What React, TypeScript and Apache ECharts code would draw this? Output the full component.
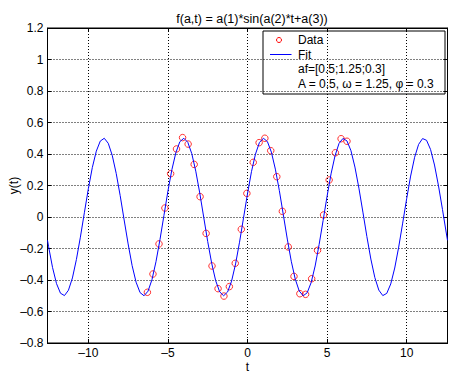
import React, { useEffect, useRef } from "react";
import * as echarts from "echarts";

const titleText = "f(a,t) = a(1)*sin(a(2)*t+a(3))";
const xName = "t";
const yName = "y(t)";
const legendLabels = ["Data", "Fit", "af=[0.5;1.25;0.3]", "A = 0.5, \u03c9 = 1.25, \u03c6 = 0.3"];

const xMin = -12.566;
const xMax = 12.566;
const yMin = -0.8;
const yMax = 1.2;
const yStep = 0.2;

// measured data points (red circles)
const dataT = [-6.29, -5.94, -5.56, -5.19, -4.83, -4.46, -4.08, -3.73, -3.35, -2.98, -2.6, -2.23, -1.85, -1.48, -1.14, -0.77, -0.39, -0.04, 0.36, 0.73, 1.09, 1.46, 1.84, 2.19, 2.56, 2.92, 3.29, 3.65, 4.03, 4.4, 4.78, 5.13, 5.52, 5.88, 6.25];
const dataY = [-0.478, -0.362, -0.171, 0.057, 0.275, 0.432, 0.504, 0.463, 0.334, 0.129, -0.104, -0.311, -0.455, -0.502, -0.442, -0.294, -0.078, 0.15, 0.347, 0.472, 0.5, 0.421, 0.256, 0.036, -0.19, -0.377, -0.487, -0.491, -0.392, -0.212, 0.013, 0.235, 0.408, 0.497, 0.481];

// fit curve samples
const fitT = [-12.566, -12.5, -12.25, -12, -11.75, -11.5, -11.25, -11, -10.75, -10.5, -10.25, -10, -9.75, -9.5, -9.25, -9, -8.75, -8.5, -8.25, -8, -7.75, -7.5, -7.25, -7, -6.75, -6.5, -6.25, -6, -5.75, -5.5, -5.25, -5, -4.75, -4.5, -4.25, -4, -3.75, -3.5, -3.25, -3, -2.75, -2.5, -2.25, -2, -1.75, -1.5, -1.25, -1, -0.75, -0.5, -0.25, 0, 0.25, 0.5, 0.75, 1, 1.25, 1.5, 1.75, 2, 2.25, 2.5, 2.75, 3, 3.25, 3.5, 3.75, 4, 4.25, 4.5, 4.75, 5, 5.25, 5.5, 5.75, 6, 6.25, 6.5, 6.75, 7, 7.25, 7.5, 7.75, 8, 8.25, 8.5, 8.75, 9, 9.25, 9.5, 9.75, 10, 10.25, 10.5, 10.75, 11, 11.25, 11.5, 11.75, 12, 12.25, 12.5, 12.566];
const fitY = [-0.148, -0.187, -0.32, -0.423, -0.484, -0.499, -0.465, -0.387, -0.27, -0.128, 0.027, 0.179, 0.314, 0.418, 0.482, 0.5, 0.468, 0.392, 0.277, 0.136, -0.019, -0.171, -0.308, -0.414, -0.48, -0.5, -0.471, -0.397, -0.284, -0.144, 0.01, 0.164, 0.301, 0.409, 0.478, 0.5, 0.474, 0.402, 0.291, 0.152, -0.002, -0.156, -0.294, -0.404, -0.475, -0.5, -0.476, -0.407, -0.298, -0.16, -0.006, 0.148, 0.288, 0.399, 0.473, 0.5, 0.479, 0.412, 0.304, 0.168, 0.015, -0.14, -0.281, -0.394, -0.47, -0.5, -0.481, -0.416, -0.311, -0.175, -0.023, 0.132, 0.274, 0.389, 0.467, 0.499, 0.483, 0.421, 0.317, 0.183, 0.031, -0.124, -0.267, -0.384, -0.464, -0.499, -0.485, -0.425, -0.324, -0.191, -0.039, 0.116, 0.26, 0.379, 0.461, 0.498, 0.487, 0.429, 0.33, 0.198, 0.048, -0.108, -0.148];

export default function App() {
  const ref = useRef<HTMLDivElement>(null);
  useEffect(() => {
    const chart = echarts.init(ref.current as HTMLDivElement, null, { renderer: "svg" });
    const font = "'Liberation Sans', Arial, Helvetica, sans-serif";
    const fs = 12;
    const fmt = (v: number) => String(v).replace("-", "\u2013");
    const dotted = { color: "#000", width: 1, type: [1, 2] as number[] };
    const lx = 263, ly = 31, lw = 182, lh = 63;
    const axisLine = { show: true, onZero: false, lineStyle: { color: "#000", width: 1 } };
    const axisTick = { show: true, inside: true, length: 4, lineStyle: { color: "#000" } };
    chart.setOption({
      animation: false,
      backgroundColor: "#fff",
      textStyle: { fontFamily: font },
      title: {
        text: titleText,
        left: 247,
        textAlign: "center",
        top: 7.5,
        textStyle: { fontSize: 12.5, fontWeight: "normal", color: "#000", fontFamily: font },
      },
      grid: { left: 47.5, right: 5.5, top: 28, bottom: 33, containLabel: false, outerBoundsMode: "none", show: true, borderColor: "#000", borderWidth: 1, backgroundColor: "transparent" },
      xAxis: [
        {
          type: "value",
          min: xMin,
          max: xMax,
          splitNumber: 5,
          position: "bottom",
          name: xName,
          nameLocation: "middle",
          nameGap: 18,
          nameMoveOverlap: false,
          nameTextStyle: { fontSize: fs, color: "#000", fontFamily: font },
          axisLine,
          axisTick,
          axisLabel: { fontSize: fs, color: "#000", margin: 4, showMinLabel: false, showMaxLabel: false, formatter: fmt, fontFamily: font },
          splitLine: { show: true, lineStyle: dotted },
        },
        {
          type: "value",
          min: xMin,
          max: xMax,
          splitNumber: 5,
          position: "top",
          axisLine,
          axisTick,
          axisLabel: { show: false },
          splitLine: { show: false },
        },
      ],
      yAxis: [
        {
          type: "value",
          min: yMin,
          max: yMax,
          interval: yStep,
          position: "left",
          axisLine,
          axisTick,
          axisLabel: { fontSize: fs, color: "#000", margin: 4, formatter: fmt, fontFamily: font },
          splitLine: { show: true, lineStyle: dotted },
        },
        {
          type: "value",
          min: yMin,
          max: yMax,
          interval: yStep,
          position: "right",
          axisLine,
          axisTick,
          axisLabel: { show: false },
          splitLine: { show: false },
        },
      ],
      series: [
        {
          name: legendLabels[0],
          type: "scatter",
          xAxisIndex: 0,
          yAxisIndex: 0,
          symbol: "circle",
          symbolSize: 6.5,
          itemStyle: { color: "rgba(0,0,0,0)", borderColor: "#ff0000", borderWidth: 1 },
          data: dataT.map((t, i) => [t, dataY[i]]),
          z: 2,
        },
        {
          name: legendLabels[1],
          type: "line",
          xAxisIndex: 0,
          yAxisIndex: 0,
          showSymbol: false,
          symbol: "none",
          lineStyle: { color: "#0000ff", width: 1 },
          data: fitT.map((t, i) => [t, fitY[i]]),
          z: 3,
        },
      ],
      graphic: [
        {
          type: "text",
          x: 13.5,
          y: 185.5,
          rotation: Math.PI / 2,
          style: { text: yName, fontSize: fs, fill: "#000", fontFamily: font, align: "center", verticalAlign: "middle" },
        },
        {
          type: "group",
          z: 100,
          children: [
            { type: "rect", shape: { x: lx, y: ly, width: lw, height: lh }, style: { fill: "#fff", stroke: "#000", lineWidth: 1 } },
            { type: "circle", shape: { cx: 279, cy: 40, r: 2.5 }, style: { fill: "none", stroke: "#ff0000", lineWidth: 1 } },
            { type: "line", shape: { x1: 270, y1: 54.5, x2: 291.5, y2: 54.5 }, style: { stroke: "#0000ff", lineWidth: 1 } },
            ...legendLabels.map((s, i) => ({
              type: "text",
              x: 298,
              y: 40 + i * 14.6,
              style: { text: s, fontSize: fs, fill: "#000", fontFamily: font, verticalAlign: "middle" },
            })),
          ],
        },
      ],
    });
    return () => chart.dispose();
  }, []);
  return <div ref={ref} style={{ position: "fixed", left: 0, top: 0, width: 453, height: 376, background: "#fff" }} />;
}
